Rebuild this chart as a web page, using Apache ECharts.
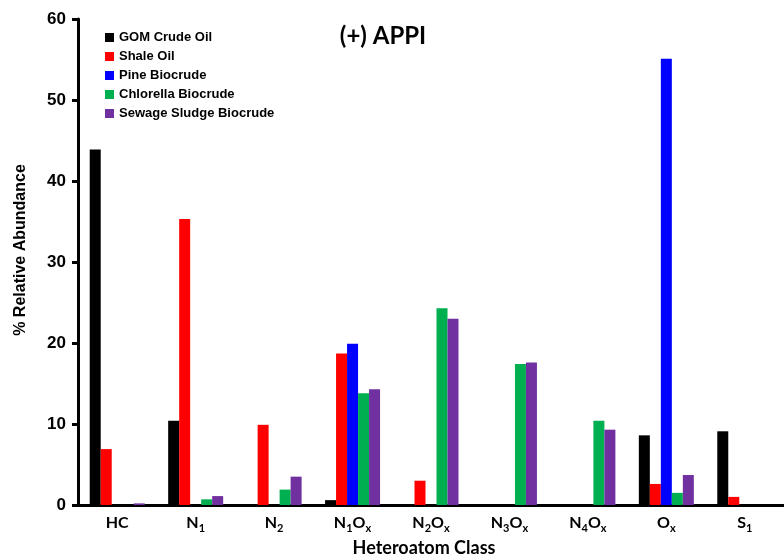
<!DOCTYPE html>
<html>
<head>
<meta charset="utf-8">
<script src="https://cdn.jsdelivr.net/npm/echarts@6/dist/echarts.min.js"></script>
<style>html,body{margin:0;padding:0;background:#fff}#c{width:784px;height:560px}</style>
</head>
<body>
<div id="c"></div>
<script>
const categories = ['HC','N1','N2','N1Ox','N2Ox','N3Ox','N4Ox','Ox','S1'];
const seriesNames = ['GOM Crude Oil','Shale Oil','Pine Biocrude','Chlorella Biocrude','Sewage Sludge Biocrude'];
const gom      = [43.9, 10.4, 0,   0.6,  0,    0,    0,    8.6, 9.1];
const shale    = [6.9,  35.3, 9.9, 18.7, 3.0,  0,    0,    2.6, 1.0];
const pine     = [0,    0,    0,   19.9, 0,    0,    0,    55.1, 0];
const chlorella= [0,    0.7,  1.9, 13.8, 24.3, 17.4, 10.4, 1.5, 0];
const sewage   = [0.2,  1.1,  3.5, 14.3, 23.0, 17.6, 9.3,  3.7, 0];
const yTicks = [0,10,20,30,40,50,60];
const colors = ['#000000','#ff0000','#0000ff','#00b050','#7030a0'];
const allData = [gom, shale, pine, chlorella, sewage];

const chart = echarts.init(document.getElementById('c'));
const F = 'Liberation Sans, Arial, sans-serif';
const L = 'Lato, sans-serif';
chart.setOption({
  animation: false,
  title: {
    text: '(+) APPI', left: 378, top: 19, textAlign: 'center',
    textStyle: {fontFamily: L, fontWeight: 'bold', fontSize: 24, color: '#000'}
  },
  legend: {
    orient: 'vertical', left: 105, top: 31, padding: 0, itemWidth: 9, itemHeight: 9, itemGap: 6,
    icon: 'rect',
    textStyle: {fontFamily: F, fontWeight: 'bold', fontSize: 13, color: '#000'},
    data: seriesNames
  },
  grid: {left: 78, right: 0, top: 19, bottom: 55, containLabel: false, outerBoundsMode: 'none'},
  xAxis: {
    type: 'category', data: categories,
    name: 'Heteroatom Class', nameLocation: 'middle', nameGap: 30,
    nameTextStyle: {fontFamily: L, fontWeight: 'bold', fontSize: 18, color: '#000', padding: [0,14,0,0]},
    axisLine: {lineStyle: {color: '#000', width: 3}},
    axisTick: {length: 4, lineStyle: {color: '#000', width: 2}},
    axisLabel: {
      margin: 8, interval: 0,
      formatter: function (v) {
        return v.replace(/([A-Z]+)|(\d|x)/g, function (m, a, b) {
          return a ? '{m|' + a + '}' : '{s|' + b + '}';
        });
      },
      rich: {
        m: {fontFamily: L, fontWeight: 'bold', fontSize: 16, color: '#000', lineHeight: 18, verticalAlign: 'bottom'},
        s: {fontFamily: L, fontWeight: 'bold', fontSize: 11, color: '#000', lineHeight: 18, verticalAlign: 'bottom', padding: [0,0,-3,0]}
      }
    }
  },
  yAxis: {
    type: 'value', min: 0, max: 60, interval: 10,
    name: '% Relative Abundance', nameLocation: 'middle', nameGap: 49, nameRotate: 90,
    nameTextStyle: {fontFamily: F, fontWeight: 'bold', fontSize: 16, color: '#000', padding: [0,0,0,24]},
    axisLine: {show: true, lineStyle: {color: '#000', width: 3}},
    axisTick: {show: true, length: 6, lineStyle: {color: '#000', width: 3}},
    splitLine: {show: false},
    axisLabel: {
      margin: 12, fontFamily: F, fontWeight: 'bold', fontSize: 17, color: '#000',
      formatter: function (v) { return yTicks.indexOf(v) >= 0 ? String(v) : ''; }
    }
  },
  series: seriesNames.map(function (n, i) {
    return {
      name: n, type: 'bar', data: allData[i], barWidth: 11, barGap: '0%',
      itemStyle: {color: colors[i]}
    };
  })
});
</script>
</body>
</html>
